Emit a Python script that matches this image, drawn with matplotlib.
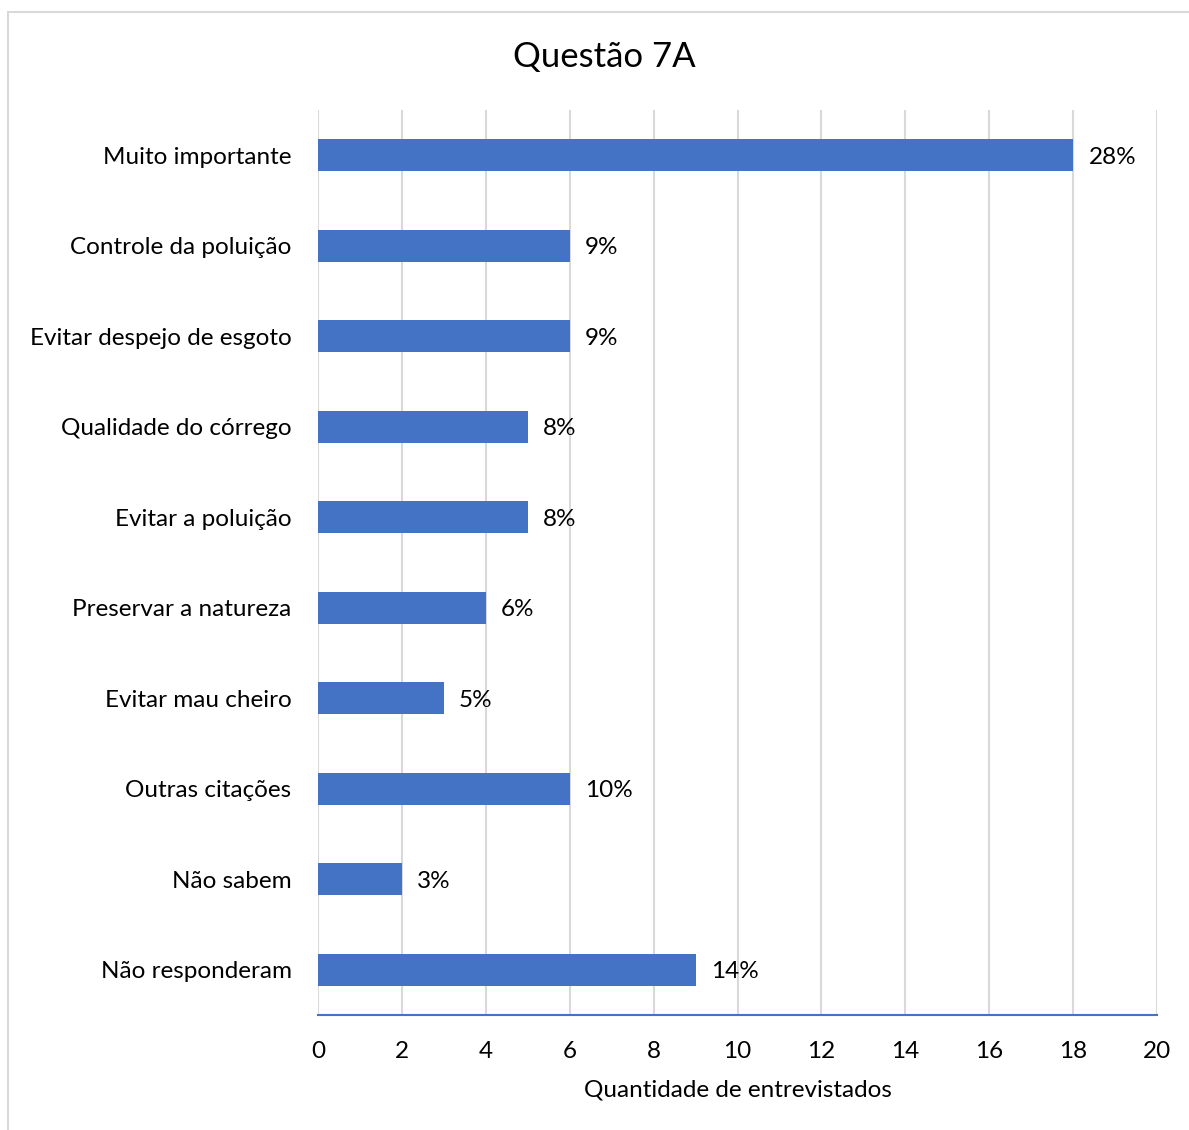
import matplotlib
matplotlib.use("Agg")
import matplotlib.pyplot as plt
from matplotlib.patches import Rectangle

plt.rcParams['font.family'] = ['Lato', 'DejaVu Sans']

categories = [
    "Muito importante",
    "Controle da poluição",
    "Evitar despejo de esgoto",
    "Qualidade do córrego",
    "Evitar a poluição",
    "Preservar a natureza",
    "Evitar mau cheiro",
    "Outras citações",
    "Não sabem",
    "Não responderam",
]
counts = [18, 6, 6, 5, 5, 4, 3, 6, 2, 9]
percent_labels = ["28%", "9%", "9%", "8%", "8%", "6%", "5%", "10%", "3%", "14%"]
x_ticks = list(range(0, 21, 2))

W, H = 1189, 1130
FS = 17.5
fig = plt.figure(figsize=(W / 100, H / 100), dpi=100)
fig.patch.set_facecolor("white")

# chart area frame (extends past the right and bottom edges)
fig.add_artist(Rectangle((8 / W, -0.05), 1.1, 1 - 12 / H + 0.05,
                         transform=fig.transFigure, fill=False,
                         edgecolor="#D9D9D9", linewidth=1.5))

ax = fig.add_axes([318 / W, 1 - 1015 / H, (1157 - 318) / W, (1015 - 110) / H])
y = list(range(len(categories)))
ax.barh(y, counts, height=0.35, color="#4472C4", zorder=3)

for yi, c, lab in zip(y, counts, percent_labels):
    ax.annotate(lab, (c, yi), xytext=(11, 0), textcoords="offset points",
                ha="left", va="center_baseline", fontsize=FS, color="#000000")

ax.set_xlim(0, 20)
ax.set_ylim(len(categories) - 0.5, -0.5)
ax.set_xticks(x_ticks)
ax.set_xticklabels([str(t) for t in x_ticks], fontsize=FS)
ax.set_yticks(y)
ax.set_yticklabels(categories, fontsize=FS)
for t in ax.get_yticklabels():
    t.set_verticalalignment("center_baseline")
ax.tick_params(axis="both", length=0)
ax.tick_params(axis="y", pad=19)
ax.tick_params(axis="x", pad=18.5)

ax.grid(axis="x", color="#D9D9D9", linewidth=1.5, zorder=0)
for s in ["top", "right", "left"]:
    ax.spines[s].set_visible(False)
ax.spines["bottom"].set_color("#4472C4")
ax.spines["bottom"].set_linewidth(1.5)
ax.spines["bottom"].set_zorder(4)

ax.set_xlabel("Quantidade de entrevistados", fontsize=FS, labelpad=13)
fig.text(604 / W, 1 - 57 / H, "Questão 7A", ha="center", va="center",
         fontsize=25, color="#000000")

fig.savefig("out.png", dpi=100)
